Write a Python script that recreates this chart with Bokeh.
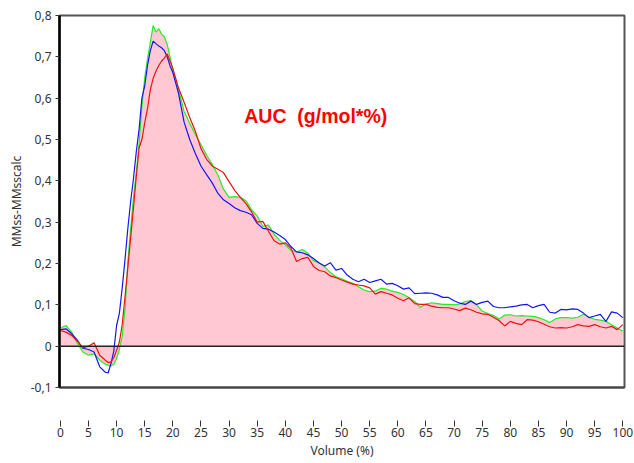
from bokeh.plotting import figure
from bokeh.models import Range1d, FixedTicker, CustomJSTickFormatter, Span, Label
from bokeh.embed import file_html
from bokeh.resources import INLINE

# ---- data ----
volume = [0, 1, 2, 3, 4, 5, 6, 7, 8, 8.5, 9, 9.5, 10, 10.5, 11, 11.5, 12, 12.5, 13, 13.5,
          14, 14.5, 15, 15.5, 16, 16.5, 17, 17.5, 18, 18.5, 19, 19.5, 20,
          21, 22, 23, 24, 25, 26, 27, 28, 29, 30, 31, 32, 33, 34, 35, 36, 37, 38, 39, 40,
          41, 42, 43, 44, 45, 46, 47, 48, 49, 50, 51, 52, 53, 54, 55, 56, 57, 58, 59, 60,
          61, 62, 63, 64, 65, 66, 67, 68, 69, 70, 71, 72, 73, 74, 75, 76, 77, 78, 79, 80,
          81, 82, 83, 84, 85, 86, 87, 88, 89, 90, 91, 92, 93, 94, 95, 96, 97, 98, 99, 100]

green = [0.044, 0.050, 0.034, 0.008, -0.014, -0.022, -0.018, -0.034, -0.044, -0.046, -0.048, -0.044,
         -0.030, -0.008, 0.025, 0.090, 0.205, 0.285, 0.360, 0.420,
         0.490, 0.580, 0.650, 0.695, 0.735, 0.776, 0.760, 0.768, 0.755, 0.748, 0.730, 0.700, 0.668,
         0.622, 0.568, 0.540, 0.512, 0.488, 0.462, 0.440, 0.414, 0.380, 0.360, 0.362, 0.360, 0.352,
         0.330, 0.315, 0.290, 0.293, 0.271, 0.256, 0.245,
         0.232, 0.228, 0.234, 0.225, 0.207, 0.202, 0.192, 0.178, 0.168, 0.163, 0.157, 0.152, 0.144,
         0.136, 0.132, 0.133, 0.140, 0.138, 0.133, 0.130,
         0.125, 0.117, 0.108, 0.094, 0.102, 0.105, 0.103, 0.101, 0.101, 0.100, 0.102, 0.108, 0.110,
         0.100, 0.085, 0.079, 0.074, 0.066, 0.075, 0.076,
         0.073, 0.074, 0.073, 0.072, 0.069, 0.064, 0.057, 0.066, 0.069, 0.069, 0.068, 0.070, 0.077,
         0.070, 0.065, 0.063, 0.060, 0.052, 0.044, 0.036]

blue = [0.040, 0.042, 0.030, 0.015, -0.005, -0.008, -0.014, -0.050, -0.063, -0.065, -0.042, -0.012,
        0.050, 0.080, 0.141, 0.210, 0.285, 0.350, 0.405, 0.470,
        0.525, 0.600, 0.630, 0.680, 0.715, 0.738, 0.732, 0.726, 0.722, 0.715, 0.700, 0.678, 0.662,
        0.612, 0.542, 0.500, 0.466, 0.436, 0.415, 0.395, 0.370, 0.354, 0.345, 0.335, 0.328, 0.324,
        0.318, 0.297, 0.285, 0.283, 0.276, 0.268, 0.258,
        0.241, 0.228, 0.226, 0.221, 0.212, 0.201, 0.194, 0.202, 0.184, 0.188, 0.172, 0.162, 0.156,
        0.162, 0.154, 0.158, 0.162, 0.150, 0.152, 0.146,
        0.138, 0.141, 0.127, 0.128, 0.129, 0.128, 0.124, 0.118, 0.118, 0.110, 0.104, 0.101, 0.109,
        0.101, 0.106, 0.109, 0.096, 0.093, 0.093, 0.095,
        0.097, 0.100, 0.101, 0.093, 0.098, 0.101, 0.082, 0.080, 0.089, 0.088, 0.090, 0.089, 0.080,
        0.069, 0.073, 0.077, 0.060, 0.083, 0.080, 0.069]

red = [0.038, 0.034, 0.026, 0.012, -0.004, 0.000, 0.008, -0.022, -0.034, -0.040, -0.038, -0.028,
       -0.010, 0.010, 0.053, 0.120, 0.190, 0.262, 0.335, 0.410,
       0.480, 0.500, 0.540, 0.575, 0.620, 0.648, 0.665, 0.679, 0.690, 0.697, 0.707, 0.690, 0.672,
       0.625, 0.590, 0.553, 0.520, 0.478, 0.452, 0.436, 0.428, 0.420, 0.398, 0.377, 0.360, 0.345,
       0.325, 0.300, 0.302, 0.278, 0.255, 0.247, 0.250,
       0.237, 0.205, 0.212, 0.215, 0.193, 0.183, 0.180, 0.170, 0.166, 0.160, 0.155, 0.150, 0.148,
       0.146, 0.141, 0.126, 0.132, 0.128, 0.124, 0.116,
       0.110, 0.117, 0.103, 0.101, 0.101, 0.097, 0.094, 0.093, 0.093, 0.090, 0.086, 0.092, 0.088,
       0.082, 0.078, 0.077, 0.070, 0.062, 0.049, 0.060,
       0.055, 0.052, 0.064, 0.063, 0.059, 0.053, 0.047, 0.044, 0.045, 0.044, 0.047, 0.052, 0.049,
       0.048, 0.052, 0.047, 0.044, 0.048, 0.040, 0.052]

x_ticks = list(range(0, 101, 5))
y_ticks = [-0.1, 0.0, 0.1, 0.2, 0.3, 0.4, 0.5, 0.6, 0.7, 0.8]
annotation_text = "AUC\u00a0\u00a0(g/mol*%)"

# ---- figure ----
p = figure(width=634, height=463, output_backend="svg", toolbar_location=None,
           x_range=Range1d(-0.15, 100.3), y_range=Range1d(-0.1, 0.8),
           min_border_left=59, min_border_right=10, min_border_top=15, min_border_bottom=76)
p.background_fill_color = "white"
p.border_fill_color = "white"
p.grid.visible = False
p.outline_line_color = "#555555"
p.outline_line_width = 2

p.varea(x=volume, y1=0, y2=green, fill_color="#FFC8D2", fill_alpha=1.0)
p.add_layout(Span(location=0, dimension="width", line_color="#222222", line_width=1.5))
p.line(volume, green, line_color="#22EE22", line_width=1.2)
p.line(volume, blue, line_color="#1515F0", line_width=1.2)
p.line(volume, red, line_color="#EE1111", line_width=1.2)

p.add_layout(Label(x=32.7, y=0.556, text=annotation_text, text_font="Liberation Sans",
                   text_font_style="bold", text_font_size="19.5px", text_color="#FF0000",
                   text_baseline="middle", text_align="left"))

# x axis (offset ticks below the frame)
xa = p.xaxis[0]
xa.ticker = FixedTicker(ticks=x_ticks)
xa.axis_line_color = "#444444"
xa.axis_line_width = 2
xa.major_tick_in = -33
xa.major_tick_out = 39
xa.major_tick_line_color = "#333333"
xa.minor_tick_line_color = None
xa.major_label_standoff = 1
xa.major_label_text_font = "Noto Sans"
xa.major_label_text_font_size = "12px"
xa.major_label_text_color = "#333333"
xa.axis_label = "Volume (%)"
xa.axis_label_text_font = "Noto Sans"
xa.axis_label_text_font_size = "12px"
xa.axis_label_text_font_style = "normal"
xa.axis_label_text_color = "#333333"
xa.axis_label_standoff = 2

ya = p.yaxis[0]
ya.ticker = FixedTicker(ticks=y_ticks)
ya.formatter = CustomJSTickFormatter(
    code="return Math.abs(tick) < 1e-9 ? '0' : tick.toFixed(1).replace('.', ',');")
ya.axis_line_color = "#000000"
ya.axis_line_width = 2.5
ya.major_tick_in = 0
ya.major_tick_out = 4
ya.major_tick_line_color = "#333333"
ya.minor_tick_line_color = None
ya.major_label_standoff = 4
ya.major_label_text_font = "Noto Sans"
ya.major_label_text_font_size = "12px"
ya.major_label_text_color = "#333333"
ya.axis_label = "MMss-MMsscalc"
ya.axis_label_text_font = "Noto Sans"
ya.axis_label_text_font_size = "12px"
ya.axis_label_text_font_style = "normal"
ya.axis_label_text_color = "#333333"
ya.axis_label_standoff = 3

open("out.html", "w").write(file_html(p, INLINE))
